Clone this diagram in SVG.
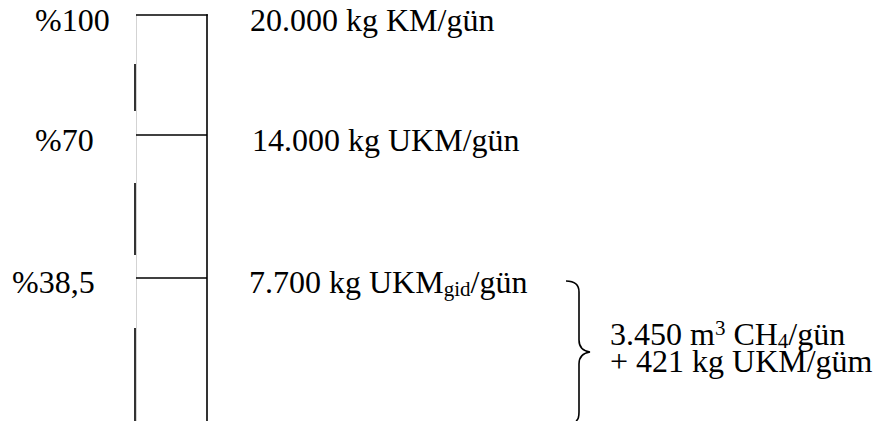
<svg xmlns="http://www.w3.org/2000/svg" width="876" height="421" viewBox="0 0 876 421">
<style>
text{font-family:"Liberation Serif","Times New Roman",serif;font-size:32px;fill:#000}
.sm{font-size:21px}
.ln{stroke:#000;stroke-width:1.6;fill:none}
.gr{stroke:#c8c8c8;stroke-width:0.8;fill:none}
</style>
<rect width="876" height="421" fill="#fff"/>
<g id="scale">
<line class="gr" x1="136.5" y1="15" x2="136.5" y2="421"/>
<line class="ln" x1="135" y1="64" x2="135" y2="111"/>
<line class="ln" x1="135" y1="183" x2="135" y2="255"/>
<line class="ln" x1="135" y1="328" x2="135" y2="421"/>
<line class="ln" x1="207" y1="14.2" x2="207" y2="421"/>
<line class="ln" x1="136" y1="15" x2="207.8" y2="15"/>
<line class="ln" x1="136" y1="135" x2="207" y2="135"/>
<line class="ln" x1="136" y1="278" x2="207" y2="278"/>
</g>
<g id="level-100">
<text x="35" y="31">%100</text>
<text x="250" y="31">20.000 kg KM/gün</text>
</g>
<g id="level-70">
<text x="35" y="151">%70</text>
<text x="252" y="151">14.000 kg UKM/gün</text>
</g>
<g id="level-38">
<text x="12" y="293">%38,5</text>
<text x="249" y="293">7.700 kg UKM<tspan class="sm" dy="3">gid</tspan><tspan dy="-3">/gün</tspan></text>
</g>
<g id="connectors">
<path class="ln" d="M566,281 C574,281 579,284 579,292 L579,340 C579,347 583,351 590,352 C583,353 579,357 579,364 L579,412 C579,417 578,420 576,421"/>
</g>
<g id="result">
<text x="610" y="345">3.450 m<tspan class="sm" dy="-10">3</tspan><tspan dy="10"> CH</tspan><tspan class="sm" dy="3">4</tspan><tspan dy="-3">/gün</tspan></text>
<text x="610" y="372">+ 421 kg UKM/güm</text>
</g>
</svg>
